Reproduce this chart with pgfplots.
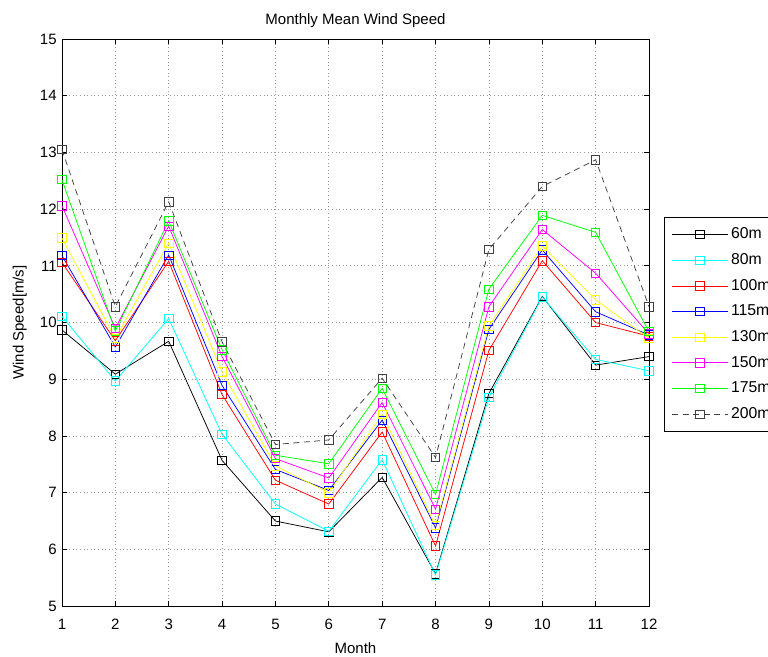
\documentclass[border=0pt]{standalone}
\usepackage{pgfplots}
\pgfplotsset{compat=1.18}
\usepackage{pgfplotstable}
\usepackage{fontspec}
\setmainfont{Liberation Sans}

\definecolor{mcyan}{rgb}{0,1,1}
\definecolor{myellow}{rgb}{1,1,0}
\definecolor{mmagenta}{rgb}{1,0,1}
\definecolor{mgreen}{rgb}{0,1,0}
\definecolor{mred}{rgb}{1,0,0}
\definecolor{mblue}{rgb}{0,0,1}

% monthly mean wind speed per hub height
\pgfplotstableread{
month m60 m80 m100 m115 m130 m150 m175 m200
1 9.87 10.11 11.06 11.18 11.49 12.06 12.52 13.05
2 9.09 8.97 9.68 9.57 9.72 9.90 9.85 10.28
3 9.67 10.07 11.08 11.19 11.40 11.70 11.79 12.13
4 7.57 8.03 8.73 8.89 9.13 9.40 9.52 9.66
5 6.50 6.80 7.22 7.41 7.47 7.60 7.66 7.85
6 6.31 6.32 6.80 7.04 7.00 7.26 7.51 7.93
7 7.27 7.58 8.07 8.28 8.38 8.59 8.84 9.02
8 5.57 5.55 6.06 6.38 6.42 6.71 6.97 7.62
9 8.75 8.68 9.51 9.88 9.94 10.28 10.59 11.29
10 10.46 10.45 11.09 11.28 11.35 11.64 11.89 12.40
11 9.25 9.35 10.00 10.19 10.40 10.87 11.59 12.87
12 9.40 9.15 9.76 9.78 9.72 9.80 9.84 10.28
}\wind

\begin{document}
\begin{tikzpicture}
  \begin{axis}[
      name=ax,
      scale only axis,
      width=391.3pt, height=378pt,
      xmin=1, xmax=12, ymin=5, ymax=15,
      xtick={1,...,12}, ytick={5,...,15},
      font=\fontsize{10}{12}\selectfont,
      /pgf/number format/assume math mode=true,
      tick align=inside, major tick length=3.5pt,
      tick style={black, line width=0.5pt},
      axis line style={line width=0.5pt},
      grid=major, grid style={dotted, gray!80, line width=0.5pt},
      title={Monthly Mean Wind Speed},
      title style={yshift=-2pt},
      xlabel={Month}, ylabel={Wind Speed[m/s]},
      xticklabel style={yshift=-5pt},
      xlabel style={yshift=-2pt},
      ylabel style={yshift=2pt},
      every axis plot/.append style={line width=0.5pt, mark=square, mark size=2.8pt},
      legend image code/.code={%
        \draw[mark repeat=2, mark phase=2] plot coordinates {(0pt,0pt) (18.5pt,0pt) (37pt,0pt)};},
      legend cell align=left,
      legend style={at={(1.0256,0.686)}, anchor=north west, draw=black,
        font=\fontsize{10.5}{12}\selectfont, row sep=4.3pt,
        inner xsep=5pt, inner ysep=5pt},
    ]
    \addplot[black] table[x=month, y=m60] {\wind};
    \addplot[mcyan] table[x=month, y=m80] {\wind};
    \addplot[mred] table[x=month, y=m100] {\wind};
    \addplot[mblue] table[x=month, y=m115] {\wind};
    \addplot[myellow] table[x=month, y=m130] {\wind};
    \addplot[mmagenta] table[x=month, y=m150] {\wind};
    \addplot[mgreen] table[x=month, y=m175] {\wind};
    \addplot[black!75, dash pattern=on 4pt off 3pt, mark options={solid}] table[x=month, y=m200] {\wind};
    \legend{60m, 80m, 100m, 115m, 130m, 150m, 175m, 200m}
  \end{axis}
  \pgfresetboundingbox
  \path[use as bounding box] ([xshift=-41.3pt, yshift=-33.3pt]ax.south west)
    rectangle ([xshift=79.3pt, yshift=26pt]ax.north east);
\end{tikzpicture}
\end{document}
